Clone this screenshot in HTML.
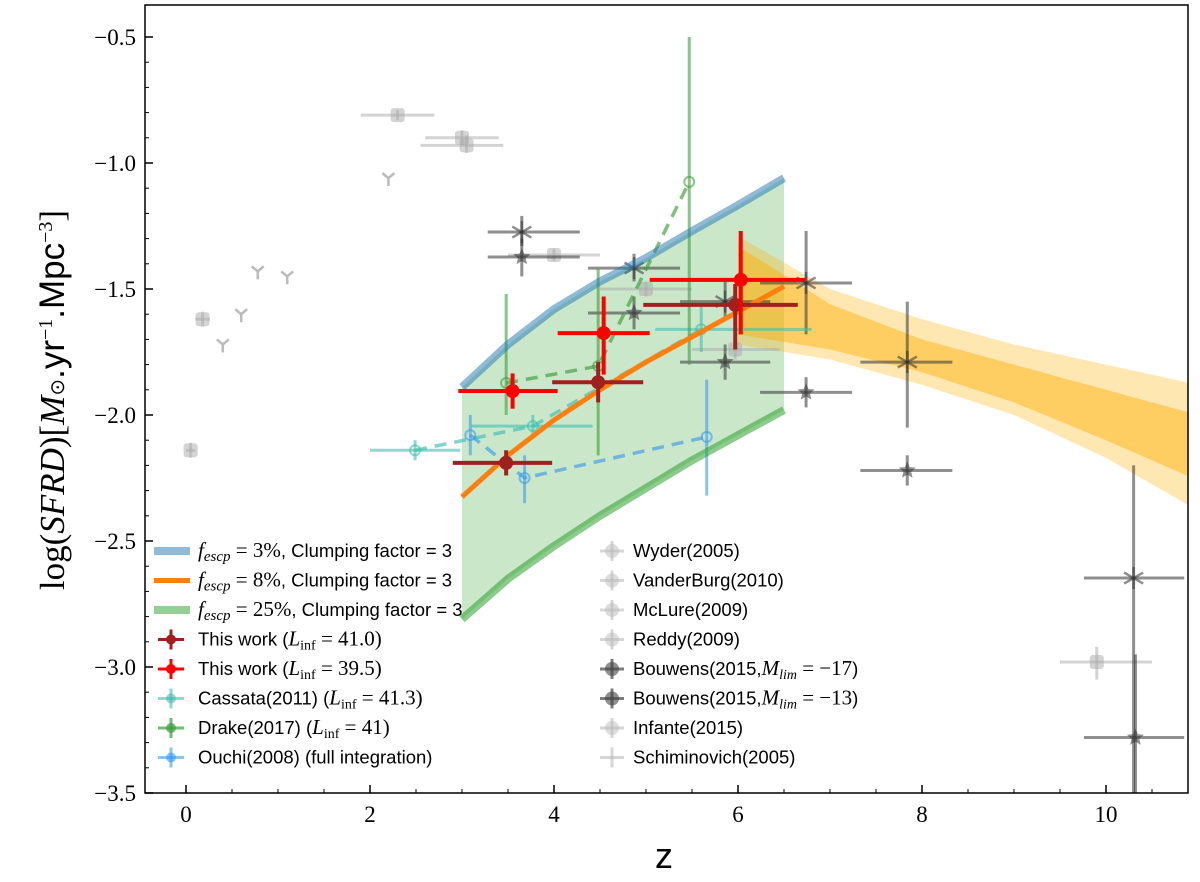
<!DOCTYPE html>
<html><head><meta charset="utf-8"><style>
body{margin:0;background:#fff}
svg{display:block}
</style></head><body>
<svg id="c" width="1200" height="882" xmlns="http://www.w3.org/2000/svg"></svg>
<script>
const curveZ=[3,3.5,4,4.5,5,5.5,6,6.5];
const blueY=[-1.889,-1.72,-1.58,-1.47,-1.377,-1.27,-1.167,-1.06];
const orangeY=[-2.325,-2.16,-2.02,-1.9,-1.79,-1.69,-1.59,-1.49];
const greenY=[-2.81,-2.65,-2.52,-2.4,-2.29,-2.18,-2.08,-1.98];
const bandZ=[6,7,8,9,10,11];
const lightTop=[-1.29,-1.5,-1.62,-1.72,-1.8,-1.88];
const lightBot=[-1.72,-1.78,-1.88,-2.0,-2.17,-2.38];
const darkTop=[-1.33,-1.56,-1.7,-1.8,-1.9,-2.0];
const darkBot=[-1.68,-1.74,-1.83,-1.95,-2.1,-2.26];
// [z, y, xlo, xhi, ylo, yhi]
const red395=[[3.55,-1.905,2.96,4.04,-1.975,-1.835],[4.54,-1.675,4.04,5.04,-1.84,-1.53],[6.03,-1.464,5.04,6.73,-1.68,-1.27]];
const red41=[[3.48,-2.19,2.9,3.98,-2.24,-2.14],[4.48,-1.87,3.98,4.97,-1.95,-1.79],[5.97,-1.563,4.97,6.65,-1.74,-1.48]];
const cassata=[[2.49,-2.14,2.0,2.98,-2.18,-2.1],[3.77,-2.044,3.1,4.42,-2.09,-2.0],[5.6,-1.66,5.1,6.8,-1.75,-1.57]];
const drake=[[3.48,-1.873,3.48,3.48,-2.0,-1.52],[4.48,-1.806,4.48,4.48,-2.16,-1.42],[5.47,-1.075,5.47,5.47,-1.8,-0.5]];
const ouchi=[[3.09,-2.08,3.09,3.09,-2.16,-2.0],[3.68,-2.25,3.68,3.68,-2.35,-2.16],[5.66,-2.087,5.66,5.66,-2.32,-1.86]];
const bouw17=[[3.65,-1.373,3.28,4.28,-1.45,-1.3],[4.87,-1.595,4.37,5.37,-1.66,-1.53],[5.86,-1.79,5.37,6.35,-1.86,-1.72],[6.74,-1.91,6.24,7.24,-1.97,-1.85],[7.84,-2.22,7.33,8.33,-2.28,-2.16],[10.32,-3.28,9.76,10.85,-3.7,-2.95]];
const bouw13=[[3.65,-1.274,3.28,4.28,-1.33,-1.21],[4.87,-1.417,4.37,5.37,-1.47,-1.36],[5.86,-1.55,5.37,6.35,-1.62,-1.47],[6.74,-1.476,6.24,7.24,-1.68,-1.27],[7.84,-1.79,7.33,8.33,-2.05,-1.55],[10.3,-2.647,9.76,10.85,-3.7,-2.2]];
const grayPts=[[0.05,-2.14,0,0.1,-2.17,-2.11],[0.18,-1.62,0.1,0.26,-1.65,-1.59],[2.3,-0.81,1.9,2.7,-0.83,-0.79],[3.0,-0.9,2.6,3.4,-0.93,-0.87],[3.05,-0.93,2.55,3.45,-0.96,-0.89],[4.0,-1.365,3.5,4.5,-1.39,-1.34],[5.0,-1.5,4.5,5.5,-1.53,-1.47],[5.97,-1.74,5.5,6.45,-1.78,-1.7],[9.9,-2.98,9.5,10.5,-3.05,-2.92]];
const schimZ=[0.4,0.6,0.78,1.1,2.2];
const schimY=[-1.72,-1.6,-1.43,-1.45,-1.06];
const xTicks=[0,2,4,6,8,10];
const yTicks=[-0.5,-1.0,-1.5,-2.0,-2.5,-3.0,-3.5];

const L=145,R=1188,T=5,B=793;
const sx=z=>186+92*z, sy=v=>37+(-0.5-v)*252;
const svg=document.getElementById('c');
const NS='http://www.w3.org/2000/svg';
function mk(tag,at,parent){const e=document.createElementNS(NS,tag);for(const k in at)e.setAttribute(k,at[k]);(parent||svg).appendChild(e);return e;}
const clip=mk('clipPath',{id:'pc'});mk('rect',{x:L,y:T,width:R-L,height:B-T},clip);
const g=mk('g',{'clip-path':'url(#pc)'});



function poly(zs,ys){return zs.map((z,i)=>sx(z)+','+sy(ys[i])).join(' ');}
function band(zs,top,bot,color,op,name){
  const pts=zs.map((z,i)=>sx(z)+','+sy(top[i])).concat(zs.slice().reverse().map((z,i)=>sx(z)+','+sy(bot[zs.length-1-i])));
  const p=mk('polygon',{points:pts.join(' '),fill:color,'fill-opacity':op},g);
  
  
}
band(curveZ,blueY,greenY,'#2ca02c',0.25,'fesc-range-fill');
band(bandZ,lightTop,lightBot,'#ffb000',0.3,'orange-band-outer');
band(bandZ,darkTop,darkBot,'#ffb000',0.45,'orange-band-inner');

function line(zs,ys,color,w,op,name,dash){
  const l=mk('polyline',{points:poly(zs,ys),fill:'none',stroke:color,'stroke-width':w,'stroke-opacity':op,'stroke-linejoin':'round'},g);
  if(dash)l.setAttribute('stroke-dasharray',dash);
  
  
}
function errs(arr,color,w,op,name,marker,ms){
  arr.forEach(d=>{
    const gg=mk('g',{},g);
    
    
    mk('line',{x1:sx(d[2]),x2:sx(d[3]),y1:sy(d[1]),y2:sy(d[1]),stroke:color,'stroke-width':w,'stroke-opacity':op},gg);
    mk('line',{x1:sx(d[0]),x2:sx(d[0]),y1:sy(d[4]),y2:sy(d[5]),stroke:color,'stroke-width':w,'stroke-opacity':op},gg);
    const x=sx(d[0]),y=sy(d[1]);
    if(marker==='dot')mk('circle',{cx:x,cy:y,r:ms,fill:color,'fill-opacity':op},gg);
    else if(marker==='ring')mk('circle',{cx:x,cy:y,r:ms,fill:'none',stroke:color,'stroke-width':2,'stroke-opacity':op},gg);
    else if(marker==='x'){for(let a=0;a<3;a++){const an=a*Math.PI/3+Math.PI/6;mk('line',{x1:x-ms*Math.cos(an),y1:y-ms*Math.sin(an),x2:x+ms*Math.cos(an),y2:y+ms*Math.sin(an),stroke:color,'stroke-width':2.5,'stroke-opacity':op},gg);}}
    else if(marker==='star'){mk('polygon',{points:[0,1,2,3,4,5,6,7,8,9].map(i=>{const r=i%2?ms*0.45:ms;const an=-Math.PI/2+i*Math.PI/5;return (x+r*Math.cos(an))+','+(y+r*Math.sin(an));}).join(' '),fill:color,'fill-opacity':op},gg);}
    else if(marker==='sq')mk('rect',{x:x-ms,y:y-ms,width:2*ms,height:2*ms,rx:3,fill:color,'fill-opacity':op},gg);
  });
}
errs(grayPts,'#aaa',3,0.5,'literature-gray-point','sq',7);
schimZ.forEach((z,i)=>{
  const x=sx(z),y=sy(schimY[i]);
  const p=mk('path',{d:`M${x-6},${y-5}L${x},${y}L${x+6},${y-5}M${x},${y}L${x},${y+8}`,stroke:'#bbb','stroke-width':2.5,fill:'none'},g);
  
  
});
errs(bouw17,'#333',3,0.55,'bouwens17-point','star',9);
errs(bouw13,'#333',3,0.55,'bouwens13-point','x',11);
line(cassata.map(d=>d[0]),cassata.map(d=>d[1]),'#3dbfb0',3.5,0.65,'cassata-line','12,8');
errs(cassata,'#3dbfb0',3,0.6,'cassata-point','ring',5);
line(drake.map(d=>d[0]),drake.map(d=>d[1]),'#3a9e3a',3.5,0.65,'drake-line','12,8');
errs(drake,'#3a9e3a',3,0.6,'drake-point','ring',5);
line(ouchi.map(d=>d[0]),ouchi.map(d=>d[1]),'#3d9be9',3.5,0.65,'ouchi-line','12,8');
errs(ouchi,'#3d9be9',3,0.6,'ouchi-point','ring',5);
line(curveZ,blueY,'#1f77b4',8,0.5,'fesc3-curve');
line(curveZ,greenY,'#2ca02c',8,0.55,'fesc25-curve');
line(curveZ,orangeY,'#ff7f0e',5,1,'fesc8-curve');
errs(red41,'#a02020',4,1,'this-work-41-point','dot',7);
errs(red395,'#ff0000',4,1,'this-work-395-point','dot',7);

// axes
const ax=mk('rect',{x:L,y:T,width:R-L,height:B-T,fill:'none',stroke:'#000','stroke-width':1.5});

xTicks.forEach(t=>{const x=sx(t);
  mk('line',{x1:x,x2:x,y1:B,y2:B-8,stroke:'#000','stroke-width':1.5});
  const tx=mk('text',{x:x,y:B+29,'text-anchor':'middle','font-family':'Liberation Serif, serif','font-size':23});tx.textContent=t;
  });
for(let t=-0.5;t<=11;t+=0.5){const x=sx(t);if(x<L||x>R)continue;mk('line',{x1:x,x2:x,y1:B,y2:B-4,stroke:'#000','stroke-width':1});}
yTicks.forEach(t=>{const y=sy(t);
  mk('line',{x1:L,x2:L+8,y1:y,y2:y,stroke:'#000','stroke-width':1.5});
  const tx=mk('text',{x:L-9,y:y+8,'text-anchor':'end','font-family':'Liberation Serif, serif','font-size':23});tx.textContent=t.toFixed(1).replace('-','\u2212');
  });
for(let t=-0.5;t>=-3.5;t-=0.1){mk('line',{x1:L,x2:L+4,y1:sy(t),y2:sy(t),stroke:'#000','stroke-width':1});}
const xl=mk('text',{x:664,y:868,'text-anchor':'middle','font-family':'Liberation Sans, sans-serif','font-size':36});xl.textContent='z';

const yl=mk('text',{x:0,y:0,transform:'translate(64,400) rotate(-90)','text-anchor':'middle','font-family':'Liberation Serif, serif','font-size':35});
yl.innerHTML='log(<tspan font-style="italic">SFRD</tspan>)[<tspan font-style="italic">M</tspan><tspan font-size="20">⊙</tspan><tspan font-family="Liberation Sans, sans-serif">.yr</tspan><tspan font-size="20" dy="-12">−1</tspan><tspan dy="12" font-family="Liberation Sans, sans-serif">.Mpc</tspan><tspan font-size="20" dy="-12">−3</tspan><tspan dy="12">]</tspan>';


// legend
const leg=mk('g',{'font-family':'Liberation Sans, sans-serif','font-size':18.5});

const left=[['band','#1f77b4',0.5,'f','3%'],['band','#ff7f0e',1,'f','8%'],['band','#2ca02c',0.5,'f','25%'],
 ['pt','#a02020',1,'This work (','L=41.0)'],['pt','#ff0000',1,'This work (','L=39.5)'],['pt','#3dbfb0',0.6,'Cassata(2011) (','L=41.3)'],['pt','#3a9e3a',0.7,'Drake(2017) (','L=41)'],['pt','#3d9be9',0.6,'Ouchi(2008) (full integration)','']];
left.forEach((e,i)=>{const y=551+i*29.5;
  const ent=mk('g',{},leg);
  if(e[0]==='band'){mk('line',{x1:154,x2:190,y1:y,y2:y,stroke:e[1],'stroke-width':e[2]===1?5:8,'stroke-opacity':e[2]},ent);
    const t=mk('text',{x:198,y:y+6},ent);t.innerHTML='<tspan font-family="Liberation Serif, serif" font-style="italic" font-size="21">f</tspan><tspan font-family="Liberation Serif, serif" font-style="italic" font-size="15" dy="4">escp</tspan><tspan dy="-4" font-family="Liberation Serif, serif" font-size="21"> = '+e[4]+'</tspan>, Clumping factor = 3';}
  else{mk('line',{x1:158,x2:184,y1:y,y2:y,stroke:e[1],'stroke-width':3,'stroke-opacity':e[2]},ent);mk('line',{x1:171,x2:171,y1:y-10,y2:y+10,stroke:e[1],'stroke-width':3,'stroke-opacity':e[2]},ent);mk('circle',{cx:171,cy:y,r:5,fill:e[1],'fill-opacity':e[2]},ent);
    const t=mk('text',{x:198,y:y+6},ent);
    if(e[4])t.innerHTML=e[3]+'<tspan font-family="Liberation Serif, serif" font-size="21"><tspan font-style="italic">L</tspan><tspan font-size="14" dy="4">inf</tspan><tspan dy="-4"> = '+e[4].slice(2,-1)+')</tspan></tspan>';else t.textContent=e[3];}
});
const right=[['sq','Wyder(2005)'],['tri','VanderBurg(2010)'],['sq','McLure(2009)'],['tri','Reddy(2009)'],['star','Bouwens(2015,M=−17)'],['x','Bouwens(2015,M=−13)'],['sq','Infante(2015)'],['y','Schiminovich(2005)']];
right.forEach((e,i)=>{const y=551+i*29.5;
  const ent=mk('g',{},leg);
  const dark=(e[0]==='star'||e[0]==='x');const col=dark?'#444':'#bbb';
  mk('line',{x1:600,x2:624,y1:y,y2:y,stroke:col,'stroke-width':3,'stroke-opacity':dark?0.7:0.6},ent);
  mk('line',{x1:612,x2:612,y1:y-10,y2:y+10,stroke:col,'stroke-width':3,'stroke-opacity':dark?0.7:0.6},ent);
  if(e[0]!=='y')mk('circle',{cx:612,cy:y,r:7,fill:col,'fill-opacity':dark?0.6:0.5},ent);
  const t=mk('text',{x:633,y:y+6},ent);
  if(dark)t.innerHTML='Bouwens(2015,<tspan font-family="Liberation Serif, serif" font-style="italic" font-size="21">M<tspan font-size="14" dy="4">lim</tspan></tspan><tspan dy="-4" font-family="Liberation Serif, serif" font-size="21"> = '+e[1].slice(-4,-1)+'</tspan>)';
  else t.textContent=e[1];
});
</script>
</body></html>
